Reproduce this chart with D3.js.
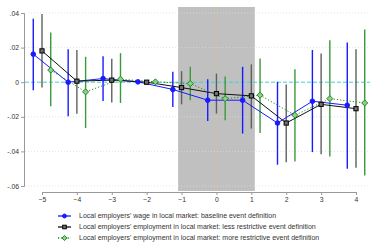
<!DOCTYPE html>
<html>
<head>
<meta charset="utf-8">
<script src="https://cdn.jsdelivr.net/npm/d3@7"></script>
<style>
  body { margin: 0; background: #fff; }
  text { font-family: Arial, "Liberation Sans", sans-serif; }
</style>
</head>
<body>
<div id="wrapper"></div>
<script>
// data
const periods = [-5, -4, -3, -2, -1, 0, 1, 2, 3, 4]
const yTicks = [0.04, 0.02, 0, -0.02, -0.04, -0.06]
const yTickLabels = [".04", ".02", "0", "-.02", "-.04", "-.06"]
const shadeRange = [-1.1, 1.1]

const wageBase = [0.0162, 0, 0.0021, 0.0002, -0.0042, -0.0104, -0.0104, -0.0236, -0.011, -0.0133]
const wageBaseLo = [-0.0046, -0.0197, -0.0108, null, -0.0143, -0.0224, -0.0297, -0.0477, -0.0404, -0.05]
const wageBaseHi = [0.0367, 0.019, 0.015, null, 0.006, 0.0017, 0.0089, 0.0002, 0.0186, 0.023]

const empLess = [0.0181, 0.0006, 0.0012, 0, -0.0031, -0.0066, -0.0079, -0.0236, -0.0128, -0.0153]
const empLessLo = [-0.0031, -0.0182, -0.0118, null, -0.0128, -0.0182, -0.0268, -0.0462, -0.0417, -0.0494]
const empLessHi = [0.0394, 0.0186, 0.0135, null, 0.0064, 0.005, 0.0103, -0.0014, 0.0166, 0.019]

const empMore = [0.007, -0.0056, 0.0017, 0.0002, -0.0008, -0.0095, -0.0075, -0.0191, -0.0095, -0.012]
const empMoreLo = [-0.0139, -0.0265, -0.012, null, -0.0104, -0.022, -0.0294, -0.0458, -0.0429, -0.0539]
const empMoreHi = [0.0288, 0.0147, 0.0168, null, 0.0089, 0.0033, 0.0137, 0.0075, 0.0243, 0.0305]

const seriesNames = [
  "Local employers' wage in local market: baseline event definition",
  "Local employers' employment in local market: less restrictive event definition",
  "Local employers' employment in local market: more restrictive event definition",
]

const series = [
  { name: seriesNames[0], est: wageBase, lo: wageBaseLo, hi: wageBaseHi, offset: -0.25,
    line: "#1a1aff", ci: "#1a1aff", marker: "circle", dash: null },
  { name: seriesNames[1], est: empLess, lo: empLessLo, hi: empLessHi, offset: 0,
    line: "#111", ci: "#606060", marker: "square", dash: null },
  { name: seriesNames[2], est: empMore, lo: empMoreLo, hi: empMoreHi, offset: 0.25,
    line: "#1e8a1e", ci: "#3a9a3a", marker: "diamond", dash: "1.2,2" },
]

// dimensions
const width = 373
const height = 243
const plot = { left: 25, right: 370, top: 7, bottom: 191 }

const svg = d3.select("#wrapper").append("svg")
  .attr("width", width)
  .attr("height", height)

const xScale = d3.scaleLinear().domain([-5, 4]).range([42, 356])
const yScale = d3.scaleLinear().domain([-0.06, 0.04]).range([186, 13])

// shaded window
svg.append("rect")
  .attr("x", xScale(shadeRange[0]))
  .attr("y", plot.top)
  .attr("width", xScale(shadeRange[1]) - xScale(shadeRange[0]))
  .attr("height", plot.bottom - plot.top)
  .attr("fill", "#c0c0c0")

// gridlines
svg.append("g").selectAll("line")
  .data(yTicks.filter(d => d != 0))
  .join("line")
    .attr("x1", plot.left)
    .attr("x2", plot.right)
    .attr("y1", d => yScale(d))
    .attr("y2", d => yScale(d))
    .attr("stroke", "#dcdcdc")
    .attr("stroke-width", 0.8)
    .attr("stroke-dasharray", "1,2")

// zero lines
svg.append("line")
  .attr("x1", plot.left).attr("x2", plot.right)
  .attr("y1", yScale(0)).attr("y2", yScale(0))
  .attr("stroke", "#40d0d0")
  .attr("stroke-width", 1)
  .attr("stroke-dasharray", "4,2")
svg.append("line")
  .attr("x1", xScale(0)).attr("x2", xScale(0))
  .attr("y1", plot.top).attr("y2", plot.bottom)
  .attr("stroke", "#e8c070")
  .attr("stroke-width", 1)
  .attr("stroke-dasharray", "1.2,2")

// axes
const yAxis = svg.append("g")
  .attr("transform", `translate(${plot.left - 1}, 0)`)
  .call(d3.axisLeft(yScale).tickValues(yTicks).tickSize(3).tickPadding(2)
    .tickFormat((d, i) => yTickLabels[i]))
const xAxis = svg.append("g")
  .attr("transform", `translate(0, ${plot.bottom + 1})`)
  .call(d3.axisBottom(xScale).tickValues(periods).tickSize(3).tickPadding(2)
    .tickFormat(d3.format("d")))
;[yAxis, xAxis].forEach(ax => {
  ax.select(".domain").attr("stroke", "#999").attr("stroke-width", 1)
  ax.selectAll(".tick line").attr("stroke", "#999")
  ax.selectAll(".tick text").attr("fill", "#333").style("font-size", "6.8px")
})

// confidence intervals
series.forEach(s => {
  const rows = periods.map((t, i) => ({ t, est: s.est[i], lo: s.lo[i], hi: s.hi[i] }))
  svg.append("g").selectAll("line")
    .data(rows.filter(d => d.lo != null))
    .join("line")
      .attr("x1", d => xScale(d.t + s.offset))
      .attr("x2", d => xScale(d.t + s.offset))
      .attr("y1", d => yScale(d.lo))
      .attr("y2", d => yScale(d.hi))
      .attr("stroke", s.ci)
      .attr("stroke-width", 1.4)
  s.rows = rows
})

// lines and markers
const lineGen = d3.line()
series.forEach(s => {
  svg.append("path")
    .datum(s.rows)
    .attr("d", lineGen.x(d => xScale(d.t + s.offset)).y(d => yScale(d.est)))
    .attr("fill", "none")
    .attr("stroke", s.line)
    .attr("stroke-width", 1)
    .attr("stroke-dasharray", s.dash)
})

function drawMarker(g, type, x, y, k = 1) {
  if (type == "circle") {
    g.append("circle").attr("cx", x).attr("cy", y).attr("r", 2.3 * k)
      .attr("fill", "#1a1aff").attr("stroke", "#1a1aff")
  } else if (type == "square") {
    g.append("rect").attr("x", x - 2.1 * k).attr("y", y - 2.1 * k)
      .attr("width", 4.2 * k).attr("height", 4.2 * k)
      .attr("fill", "#707070").attr("stroke", "#000").attr("stroke-width", 1)
  } else {
    g.append("polygon")
      .attr("points", `${x},${y - 3 * k} ${x + 3 * k},${y} ${x},${y + 3 * k} ${x - 3 * k},${y}`)
      .attr("fill", "#8fcf8f").attr("stroke", "#1e8a1e").attr("stroke-width", 1)
  }
}

series.forEach(s => {
  const g = svg.append("g")
  s.rows.forEach(d => drawMarker(g, s.marker, xScale(d.t + s.offset), yScale(d.est)))
})

// legend
const legend = svg.append("g")
series.forEach((s, i) => {
  const y = 216 + i * 11
  legend.append("line")
    .attr("x1", 58).attr("x2", 71)
    .attr("y1", y).attr("y2", y)
    .attr("stroke", s.line)
    .attr("stroke-width", 1.3)
    .attr("stroke-dasharray", s.dash)
  drawMarker(legend, s.marker, 64.5, y, 0.85)
  legend.append("text")
    .attr("x", 79)
    .attr("y", y + 2.4)
    .attr("fill", "#333")
    .style("font-size", "7px")
    .text(s.name)
})
</script>
</body>
</html>
